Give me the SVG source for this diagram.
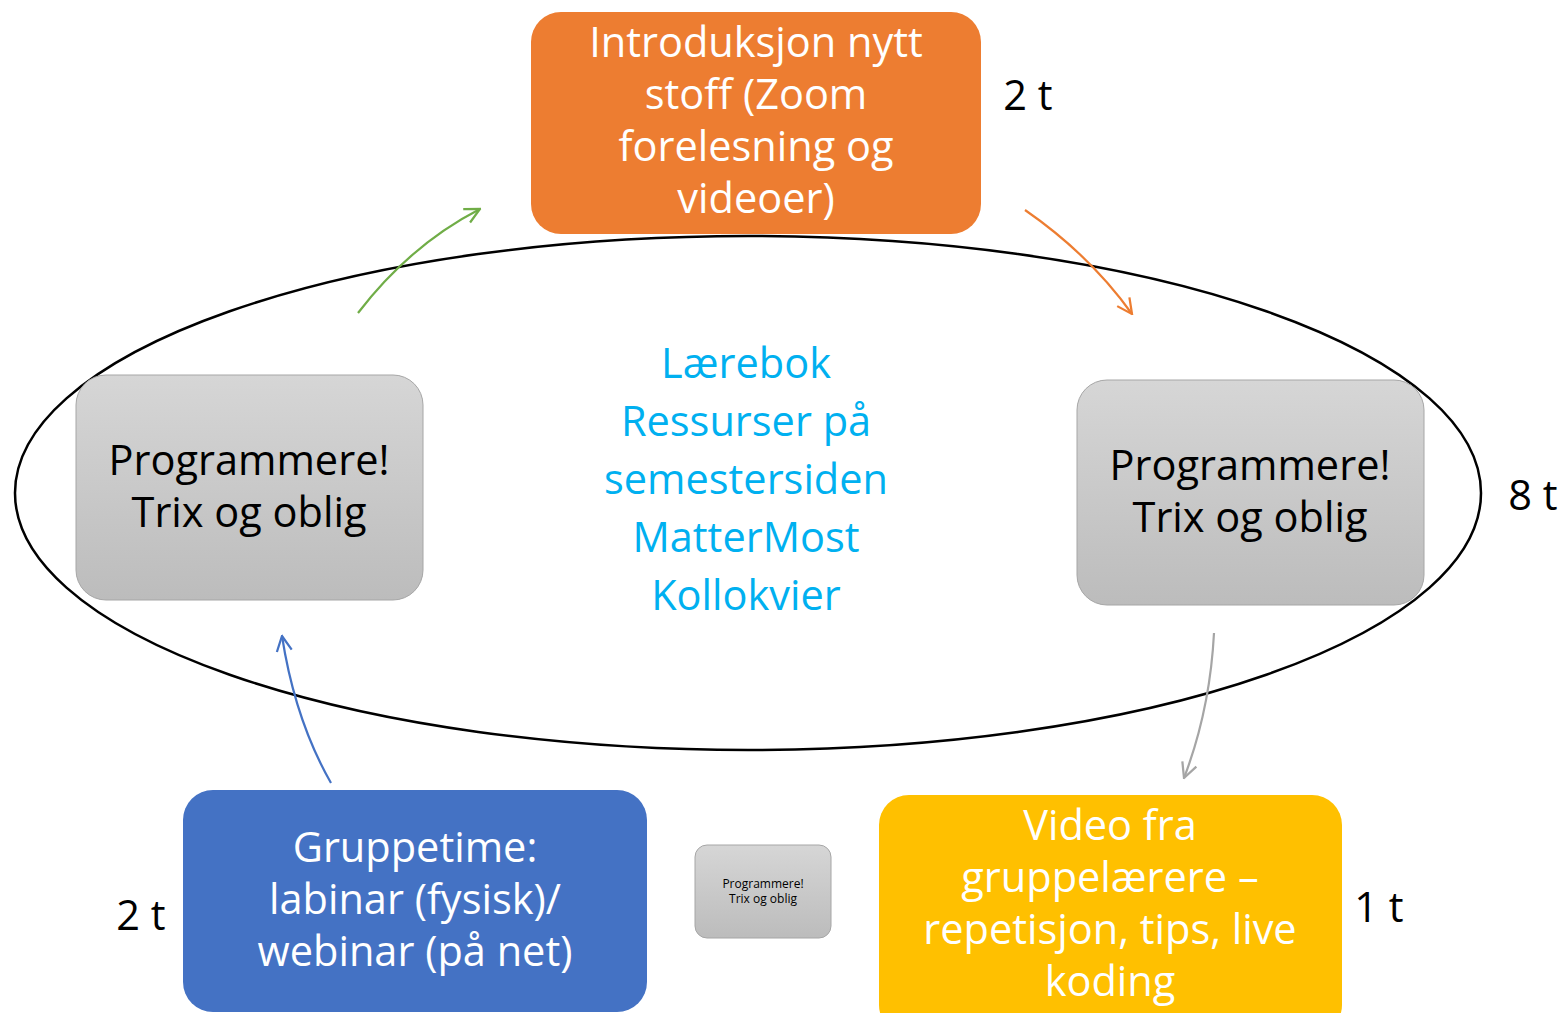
<svg xmlns="http://www.w3.org/2000/svg" width="1565" height="1013" viewBox="0 0 1565 1013">
<defs>
<linearGradient id="gray" x1="0" y1="0" x2="0" y2="1">
<stop offset="0" stop-color="#d6d6d6"/>
<stop offset="1" stop-color="#bcbcbc"/>
</linearGradient>
<marker id="mGreen" viewBox="0 0 12 12" refX="11" refY="6" markerWidth="18" markerHeight="18" markerUnits="userSpaceOnUse" orient="auto"><path d="M1,1 L11,6 L1,11" fill="none" stroke="#70AD47" stroke-width="1.5"/></marker>
<marker id="mOrange" viewBox="0 0 12 12" refX="11" refY="6" markerWidth="18" markerHeight="18" markerUnits="userSpaceOnUse" orient="auto"><path d="M1,1 L11,6 L1,11" fill="none" stroke="#ED7D31" stroke-width="1.5"/></marker>
<marker id="mGray" viewBox="0 0 12 12" refX="11" refY="6" markerWidth="18" markerHeight="18" markerUnits="userSpaceOnUse" orient="auto"><path d="M1,1 L11,6 L1,11" fill="none" stroke="#A5A5A5" stroke-width="1.5"/></marker>
<marker id="mBlue" viewBox="0 0 12 12" refX="11" refY="6" markerWidth="18" markerHeight="18" markerUnits="userSpaceOnUse" orient="auto"><path d="M1,1 L11,6 L1,11" fill="none" stroke="#4472C4" stroke-width="1.5"/></marker>
</defs>
<style>
text { font-family: "Open Sans", "Lato", "Liberation Sans", sans-serif; text-anchor: middle; font-variant-ligatures: none; }
.big { font-size: 41.5px; }
.w { fill: #ffffff; }
.k { fill: #000000; }
.c { fill: #00B0F0; }
.gbox { fill: url(#gray); stroke: #a6a6a6; stroke-width: 1; }
.conn { fill: none; stroke-width: 2.2; }
</style>
<rect width="1565" height="1013" fill="#ffffff"/>
<g id="cycle">
<ellipse cx="748" cy="493" rx="733" ry="257" fill="none" stroke="#000" stroke-width="2.5"/>
</g>
<g id="connectors">
<path class="conn" d="M358,313 Q410,245 480,209" stroke="#70AD47" marker-end="url(#mGreen)"/>
<path class="conn" d="M1025,210 Q1090,255 1132,314" stroke="#ED7D31" marker-end="url(#mOrange)"/>
<path class="conn" d="M1214,633 Q1210,710 1184,778" stroke="#A5A5A5" marker-end="url(#mGray)"/>
<path class="conn" d="M331,783 Q295,720 282,636" stroke="#4472C4" marker-end="url(#mBlue)"/>
</g>
<g id="intro">
<rect x="531" y="12" width="450" height="222" rx="30" fill="#ED7D31"/>
<text class="big w" x="756" y="57">Introduksjon nytt</text>
<text class="big w" x="756" y="109">stoff (Zoom</text>
<text class="big w" x="756" y="161">forelesning og</text>
<text class="big w" x="756" y="213">videoer)</text>
</g>
<g id="prog-left">
<rect class="gbox" x="76" y="375" width="347" height="225" rx="30"/>
<text class="big k" x="249" y="475">Programmere!</text>
<text class="big k" x="249" y="527">Trix og oblig</text>
</g>
<g id="prog-right">
<rect class="gbox" x="1077" y="380" width="347" height="225" rx="30"/>
<text class="big k" x="1250" y="480">Programmere!</text>
<text class="big k" x="1250" y="532">Trix og oblig</text>
</g>
<g id="resources">
<text class="big c" x="746" y="378">Lærebok</text>
<text class="big c" x="746" y="436">Ressurser på</text>
<text class="big c" x="746" y="494">semestersiden</text>
<text class="big c" x="746" y="552">MatterMost</text>
<text class="big c" x="746" y="610">Kollokvier</text>
</g>
<g id="gruppetime">
<rect x="183" y="790" width="464" height="222" rx="30" fill="#4472C4"/>
<text class="big w" x="415" y="862">Gruppetime:</text>
<text class="big w" x="415" y="914">labinar (fysisk)/</text>
<text class="big w" x="415" y="966">webinar (på net)</text>
</g>
<g id="video">
<rect x="879" y="795" width="463" height="240" rx="30" fill="#FFC000"/>
<text class="big w" x="1110" y="840">Video fra</text>
<text class="big w" x="1110" y="892">gruppelærere –</text>
<text class="big w" x="1110" y="944">repetisjon, tips, live</text>
<text class="big w" x="1110" y="996">koding</text>
</g>
<g id="prog-small">
<rect class="gbox" x="695" y="845" width="136" height="93" rx="12"/>
<text class="k" x="763" y="888" font-size="12">Programmere!</text>
<text class="k" x="763" y="903" font-size="12">Trix og oblig</text>
</g>
<g id="labels">
<text class="big k" x="1028" y="110">2 t</text>
<text class="big k" x="1533" y="510">8 t</text>
<text class="big k" x="141" y="930">2 t</text>
<text class="big k" x="1379" y="922">1 t</text>
</g>
</svg>
